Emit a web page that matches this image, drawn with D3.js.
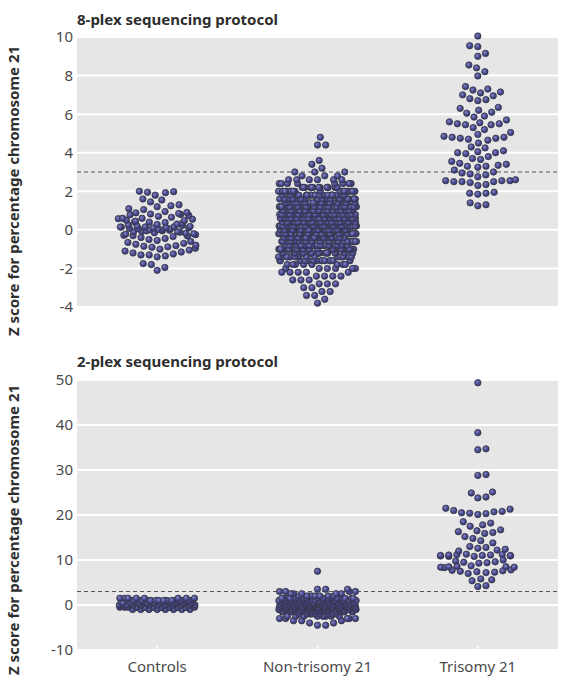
<!DOCTYPE html>
<html>
<head>
<meta charset="utf-8">
<script src="https://cdn.jsdelivr.net/npm/d3@7"></script>
<style>
  body { margin: 0; background: #fff; }
  text { font-family: "Noto Sans", "DejaVu Sans", sans-serif; }
</style>
</head>
<body>
<div id="chart"></div>
<script>
// chart data
var categories = ["Controls", "Non-trisomy 21", "Trisomy 21"];
var ticks8 = [-4, -2, 0, 2, 4, 6, 8, 10];
var ticks2 = [-10, 0, 10, 20, 30, 40, 50];
var cutoff = 3;

var controls8 = [2.0, 1.98, 1.95, 1.93, 1.8, 1.6, 1.55, 1.45, 1.3, 1.25, 1.2, 1.1, 1.05,
  0.95, 0.9, 0.88, 0.85, 0.82, 0.8, 0.78, 0.75, 0.7, 0.65, 0.6, 0.6, 0.58, 0.55, 0.5,
  0.48, 0.45, 0.42, 0.4, 0.38, 0.35, 0.3, 0.28, 0.25, 0.22, 0.2, 0.18, 0.16, 0.15, 0.15,
  0.14, 0.12, 0.1, 0.1, 0.08, 0.05, 0.05, 0.02, 0.0, 0.0, -0.02, -0.05, -0.05, -0.08,
  -0.1, -0.1, -0.12, -0.15, -0.18, -0.2, -0.22, -0.25, -0.28, -0.3, -0.32, -0.35, -0.4,
  -0.45, -0.5, -0.55, -0.6, -0.65, -0.7, -0.75, -0.8, -0.82, -0.85, -0.88, -0.9, -0.95,
  -1.0, -1.05, -1.1, -1.15, -1.2, -1.25, -1.3, -1.3, -1.35, -1.4, -1.75, -1.8, -1.95, -2.1];

// non-trisomy 21 (8-plex): number of samples at each z-score level
var nonTri8Levels = [4.8, 4.6, 4.4, 4.2, 4.0, 3.8, 3.6, 3.4, 3.2, 3.0, 2.8, 2.6, 2.4, 2.2,
  2.0, 1.8, 1.6, 1.4, 1.2, 1.0, 0.8, 0.6, 0.4, 0.2, 0.0, -0.2, -0.4, -0.6, -0.8, -1.0,
  -1.2, -1.4, -1.6, -1.8, -2.0, -2.2, -2.4, -2.6, -2.8, -3.0, -3.2, -3.4, -3.6, -3.8];
var nonTri8Counts = [1, 0, 2, 0, 0, 0, 1, 1, 1, 3, 3, 6, 8, 14,
  18, 24, 28, 32, 34, 36, 38, 40, 40, 42, 42, 40, 38, 36, 32, 28,
  24, 18, 14, 8, 6, 5, 4, 3, 3, 2, 2, 2, 1, 1];

var trisomy8 = [10.05, 9.55, 9.5, 9.15, 9.0, 8.55, 8.4, 8.2, 7.98, 7.43, 7.3, 7.25, 7.15,
  7.1, 7.0, 6.95, 6.8, 6.75, 6.7, 6.35, 6.3, 6.2, 6.1, 6.05, 5.9, 5.85, 5.7, 5.6, 5.55,
  5.5, 5.5, 5.45, 5.45, 5.3, 5.2, 5.05, 4.95, 4.85, 4.8, 4.8, 4.75, 4.75, 4.7, 4.65, 4.5,
  4.3, 4.25, 4.1, 4.05, 4.0, 4.0, 3.95, 3.8, 3.7, 3.65, 3.55, 3.45, 3.4, 3.35, 3.3, 3.3,
  3.25, 3.1, 3.0, 2.95, 2.9, 2.85, 2.75, 2.6, 2.55, 2.55, 2.55, 2.5, 2.5, 2.5, 2.45, 2.35,
  2.3, 1.95, 1.9, 1.9, 1.85, 1.4, 1.3, 1.25];

// 2-plex
var controls2Levels = [1.5, 1.0, 0.5, 0.0, -0.5, -1.0];
var controls2Counts = [8, 18, 24, 24, 18, 8];

var nonTri2Levels = [7.5, 3.5, 3.0, 2.5, 2.0, 1.5, 1.0, 0.5, 0.0, -0.5, -1.0, -1.5,
  -2.0, -2.5, -3.0, -3.5, -4.0, -4.5];
var nonTri2Counts = [1, 3, 4, 5, 8, 18, 30, 40, 45, 40, 30, 18, 9, 8, 5, 3, 2, 2];

var trisomy2 = [49.4, 38.3, 34.7, 34.5, 29.0, 28.8, 25.1, 24.9, 24.0, 23.8, 21.5, 21.3,
  21.0, 20.8, 20.7, 20.5, 20.4, 20.3, 20.1, 18.5, 18.2, 17.8, 17.5, 16.7, 16.5, 16.3,
  16.1, 15.9, 15.2, 14.8, 14.3, 13.8, 13.0, 12.8, 12.6, 12.4, 12.2, 12.0, 11.3, 11.2,
  11.2, 11.1, 11.1, 11.0, 11.0, 11.0, 10.9, 10.9, 10.8, 10.8, 10.0, 9.8, 9.6, 9.5, 9.4,
  9.3, 8.7, 8.6, 8.5, 8.5, 8.4, 8.4, 8.3, 7.8, 7.7, 7.6, 7.5, 7.4, 7.3, 7.2, 7.0, 5.8,
  5.6, 5.4, 4.3, 4.1];

// turn level/count pairs into one value per sample
function expand(levels, counts) {
  var out = [];
  levels.forEach(function(v, i) {
    for (var k = 0; k < counts[i]; k++) out.push(v);
  });
  return out;
}

var panels = [
  {
    title: "8-plex sequencing protocol",
    top: 37, bottom: 307, domain: [-4, 10], ticks: ticks8, titleY: 25, labelY: 191,
    groups: [controls8, expand(nonTri8Levels, nonTri8Counts), trisomy8],
    xAxis: false
  },
  {
    title: "2-plex sequencing protocol",
    top: 380, bottom: 650, domain: [-10, 50], ticks: ticks2, titleY: 367, labelY: 530,
    groups: [expand(controls2Levels, controls2Counts), expand(nonTri2Levels, nonTri2Counts), trisomy2],
    xAxis: true
  }
];

var svgWidth = 566;
var svgHeight = 694;
var left = 77, right = 558;
var dotR = 3.2;
var spacing = 8.2;   // centre distance in the swarm
var corral = 39;     // half width before points wrap

var svg = d3.select("#chart")
  .append("svg")
  .attr("width", svgWidth)
  .attr("height", svgHeight);

var defs = svg.append("defs");
var grad = defs.append("radialGradient")
  .attr("id", "ball")
  .attr("cx", "40%").attr("cy", "38%").attr("r", "60%");
grad.append("stop").attr("offset", "0%").attr("stop-color", "#8585c8");
grad.append("stop").attr("offset", "55%").attr("stop-color", "#4d4d95");
grad.append("stop").attr("offset", "100%").attr("stop-color", "#333370");

var xScale = d3.scaleBand().domain(categories).range([left, right]);

function swarm(values, y, cx) {
  var pts = values.slice().sort(d3.ascending).map(function(v) {
    return { v: v, y: y(v), x: 0 };
  });
  var placed = [];
  pts.forEach(function(p) {
    var near = placed.filter(function(q) { return Math.abs(q.y - p.y) < spacing; });
    var cands = [0];
    near.forEach(function(q) {
      var dy = p.y - q.y;
      var dx = Math.sqrt(spacing * spacing - dy * dy);
      cands.push(q.x + dx, q.x - dx);
    });
    cands.sort(function(a, b) { return Math.abs(a) - Math.abs(b); });
    for (var i = 0; i < cands.length; i++) {
      var c = cands[i];
      var ok = near.every(function(q) {
        var dx = q.x - c, dy = q.y - p.y;
        return dx * dx + dy * dy >= spacing * spacing - 0.01;
      });
      if (ok) { p.x = c; break; }
    }
    placed.push(p);
  });
  placed.forEach(function(p) {
    var x = p.x;
    if (Math.abs(x) > corral) {
      x = (((x + corral) % (2 * corral)) + 2 * corral) % (2 * corral) - corral;
    }
    p.px = cx + x;
  });
  return placed;
}

panels.forEach(function(panel) {
  var y = d3.scaleLinear().domain(panel.domain).range([panel.bottom, panel.top]);
  var g = svg.append("g");

  g.append("rect")
    .attr("x", left).attr("y", panel.top)
    .attr("width", right - left).attr("height", panel.bottom - panel.top)
    .attr("fill", "#e6e6e6");

  g.selectAll("line.grid")
    .data(panel.ticks)
    .enter()
    .append("line")
    .attr("class", "grid")
    .attr("x1", left).attr("x2", right)
    .attr("y1", function(d) { return y(d); })
    .attr("y2", function(d) { return y(d); })
    .attr("stroke", "#fff")
    .attr("stroke-width", 2);

  g.selectAll("text.tick")
    .data(panel.ticks)
    .enter()
    .append("text")
    .attr("class", "tick")
    .attr("x", left - 4)
    .attr("y", function(d) { return y(d); })
    .attr("dy", "0.36em")
    .attr("text-anchor", "end")
    .style("font-size", "15px")
    .style("fill", "#4a4a4a")
    .text(function(d) { return d; });

  g.append("line")
    .attr("x1", left).attr("x2", right)
    .attr("y1", y(cutoff)).attr("y2", y(cutoff))
    .attr("stroke", "#555")
    .attr("stroke-width", 1.1)
    .attr("stroke-dasharray", "4,3");

  g.append("text")
    .attr("x", left)
    .attr("y", panel.titleY)
    .style("font-size", "15px")
    .style("font-weight", "bold")
    .style("fill", "#2e2e2e")
    .text(panel.title);

  g.append("text")
    .attr("transform", "translate(19," + panel.labelY + ") rotate(-90)")
    .attr("text-anchor", "middle")
    .style("font-size", "15px")
    .style("font-weight", "bold")
    .style("fill", "#2e2e2e")
    .text("Z score for percentage chromosome 21");

  if (panel.xAxis) {
    g.selectAll("line.xtick")
      .data(categories)
      .enter()
      .append("line")
      .attr("class", "xtick")
      .attr("x1", function(d) { return xScale(d) + xScale.bandwidth() / 2; })
      .attr("x2", function(d) { return xScale(d) + xScale.bandwidth() / 2; })
      .attr("y1", panel.bottom - 4).attr("y2", panel.bottom)
      .attr("stroke", "#fff")
      .attr("stroke-width", 1.5);

    g.selectAll("text.cat")
      .data(categories)
      .enter()
      .append("text")
      .attr("class", "cat")
      .attr("x", function(d) { return xScale(d) + xScale.bandwidth() / 2; })
      .attr("y", panel.bottom + 22)
      .attr("text-anchor", "middle")
      .style("font-size", "15px")
      .style("fill", "#4a4a4a")
      .text(function(d) { return d; });
  }

  panel.groups.forEach(function(values, i) {
    var cx = xScale(categories[i]) + xScale.bandwidth() / 2;
    var pts = swarm(values, y, cx);
    g.append("g")
      .selectAll("circle")
      .data(pts)
      .enter()
      .append("circle")
      .attr("cx", function(d) { return d.px; })
      .attr("cy", function(d) { return d.y; })
      .attr("r", dotR)
      .attr("fill", "url(#ball)")
      .attr("stroke", "#3a3a44")
      .attr("stroke-width", 0.8);
  });
});
</script>
</body>
</html>
